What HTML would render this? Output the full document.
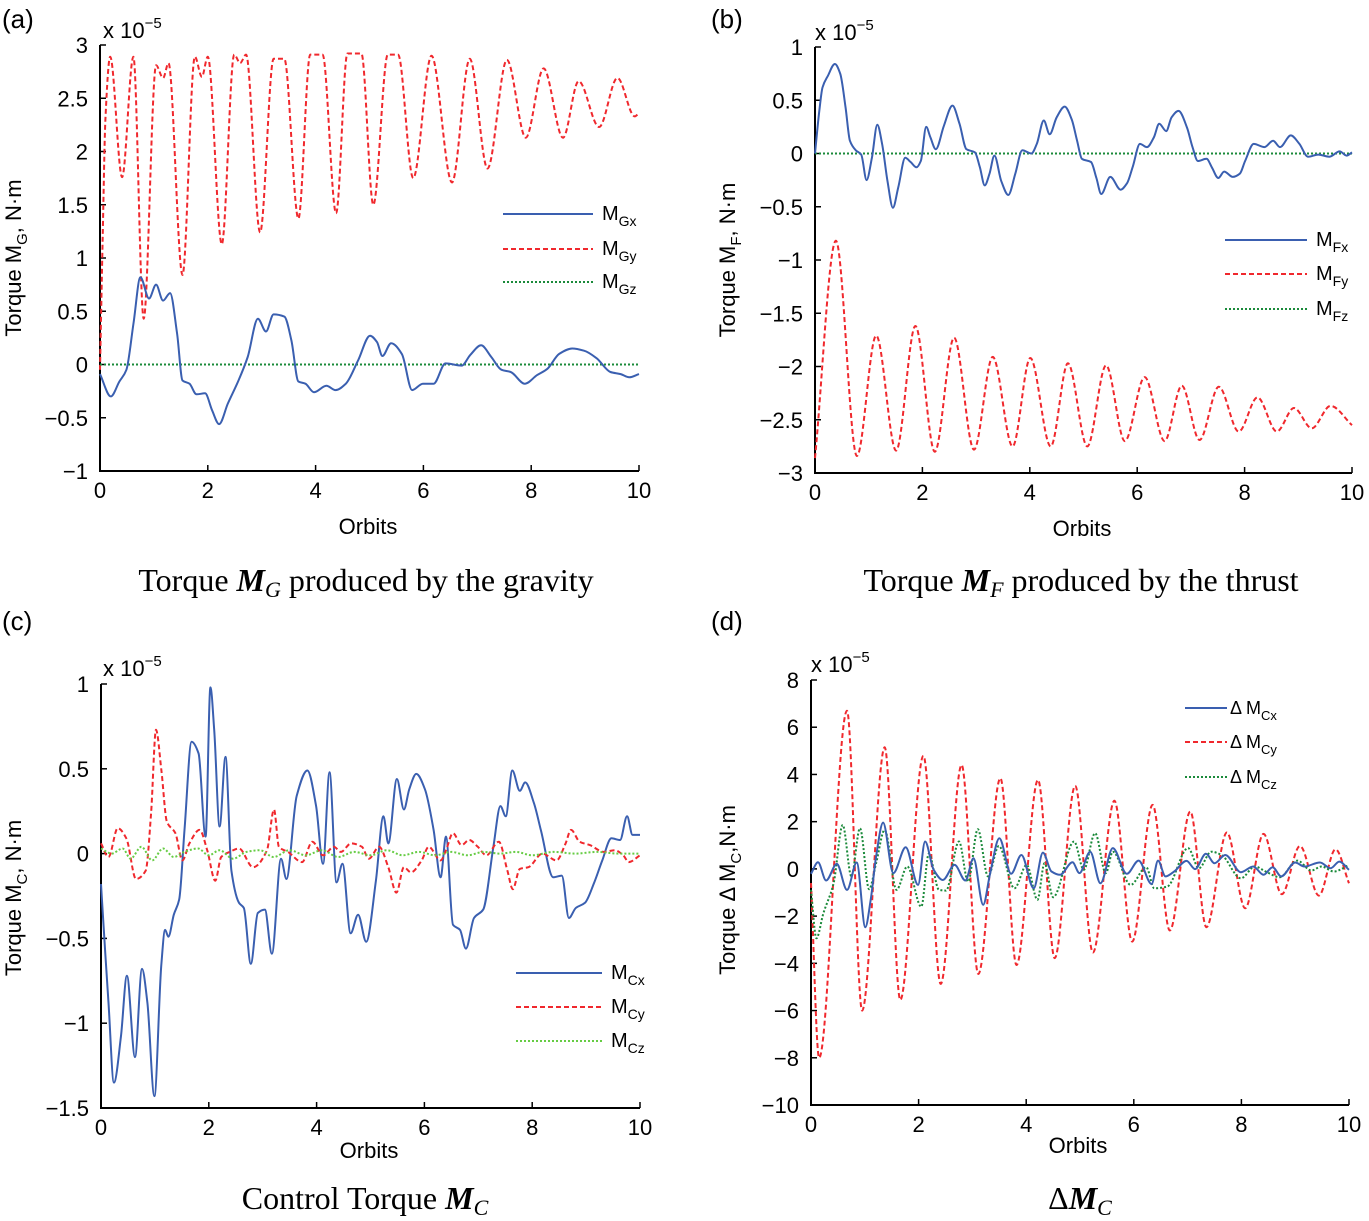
<!DOCTYPE html>
<html><head><meta charset="utf-8"><style>
html,body{margin:0;padding:0;background:#fff;}
svg{display:block;font-family:"Liberation Sans",sans-serif;}
.tk{font-size:22px;fill:#000;}
</style></head><body>
<svg id="root" width="1369" height="1221" viewBox="0 0 1369 1221" xmlns="http://www.w3.org/2000/svg"></svg>
<script>
// ---------- Panel (a) data: gravity torque (x: orbits, y: 1e-5 N·m)
const gxX=[0,0.2,0.36,0.49,0.62,0.75,0.91,1.04,1.17,1.3,1.43,1.53,1.66,1.79,1.95,2.08,2.21,2.37,2.57,2.74,2.93,3.08,3.22,3.42,3.55,3.68,3.81,3.97,4.2,4.37,4.56,4.79,5.01,5.14,5.24,5.4,5.6,5.79,5.99,6.19,6.41,6.71,6.87,7.07,7.26,7.45,7.62,7.88,8.11,8.3,8.52,8.76,8.98,9.21,9.47,9.66,9.82,10];
const gxY=[-0.09,-0.3,-0.16,-0.05,0.38,0.82,0.62,0.75,0.6,0.67,0.29,-0.15,-0.18,-0.28,-0.27,-0.43,-0.56,-0.37,-0.15,0.07,0.43,0.31,0.47,0.45,0.23,-0.16,-0.18,-0.26,-0.2,-0.24,-0.18,0.04,0.27,0.21,0.08,0.2,0.1,-0.24,-0.18,-0.18,0.01,-0.01,0.09,0.18,0.07,-0.05,-0.07,-0.18,-0.1,-0.04,0.1,0.15,0.13,0.06,-0.07,-0.09,-0.12,-0.09];
const gyX=[0,0.05,0.1,0.19,0.41,0.62,0.81,1.04,1.17,1.27,1.53,1.76,1.89,2.0,2.26,2.49,2.6,2.71,2.97,3.22,3.42,3.68,3.9,4.13,4.38,4.59,4.85,5.07,5.34,5.53,5.81,6.15,6.53,6.86,7.19,7.55,7.9,8.23,8.59,8.88,9.26,9.6,9.92,10];
const gyY=[-0.05,1.2,2.3,2.89,1.76,2.89,0.43,2.81,2.69,2.83,0.84,2.89,2.7,2.89,1.13,2.91,2.83,2.91,1.24,2.87,2.87,1.37,2.91,2.91,1.42,2.92,2.92,1.5,2.91,2.91,1.75,2.9,1.71,2.87,1.84,2.86,2.13,2.78,2.13,2.66,2.23,2.69,2.33,2.36];
const gzX=[0,10];
const gzY=[0,0];
// ---------- Panel (b) data: thrust torque
const fxX=[0,0.08,0.14,0.24,0.37,0.47,0.57,0.65,0.76,0.86,0.96,1.06,1.16,1.25,1.35,1.45,1.55,1.68,1.78,1.89,1.97,2.07,2.15,2.25,2.4,2.56,2.69,2.82,2.98,3.07,3.16,3.25,3.34,3.47,3.6,3.73,3.86,4.03,4.13,4.26,4.37,4.5,4.65,4.78,4.88,4.97,5.14,5.24,5.33,5.5,5.69,5.81,5.92,6.05,6.18,6.31,6.41,6.54,6.64,6.77,6.93,7.03,7.13,7.29,7.39,7.51,7.62,7.78,7.91,8.01,8.17,8.37,8.53,8.66,8.86,9.02,9.18,9.37,9.58,9.77,9.9,10];
const fxY=[0,0.4,0.62,0.73,0.84,0.75,0.43,0.12,0.03,-0.01,-0.25,-0.04,0.27,0.09,-0.26,-0.51,-0.32,-0.04,-0.08,-0.13,-0.07,0.25,0.15,0.04,0.26,0.45,0.28,0.04,0.01,-0.13,-0.3,-0.19,-0.02,-0.26,-0.39,-0.19,0.03,0,0.09,0.31,0.18,0.34,0.44,0.32,0.12,-0.05,-0.08,-0.23,-0.38,-0.22,-0.34,-0.28,-0.12,0.09,0.06,0.15,0.28,0.21,0.34,0.4,0.24,0.06,-0.07,-0.05,-0.13,-0.23,-0.17,-0.22,-0.19,-0.07,0.09,0.06,0.12,0.06,0.17,0.09,-0.03,-0.01,-0.03,0.02,-0.02,0.01];
const fyX=[0,0.39,0.78,1.14,1.51,1.87,2.23,2.59,2.96,3.31,3.68,4.01,4.39,4.71,5.07,5.42,5.77,6.14,6.51,6.83,7.16,7.52,7.89,8.24,8.6,8.92,9.25,9.6,10];
const fyY=[-2.86,-0.82,-2.84,-1.71,-2.79,-1.62,-2.8,-1.73,-2.78,-1.91,-2.75,-1.92,-2.75,-1.97,-2.75,-1.99,-2.7,-2.1,-2.7,-2.18,-2.69,-2.19,-2.61,-2.29,-2.61,-2.39,-2.58,-2.37,-2.55];
const fzX=[0,10];
const fzY=[0,0];
// ---------- Panel (c) data: control torque
const cxX=[0,0.08,0.14,0.24,0.37,0.48,0.63,0.76,0.86,0.99,1.12,1.19,1.25,1.35,1.45,1.55,1.68,1.81,1.94,2.03,2.1,2.2,2.31,2.42,2.56,2.65,2.78,2.91,3.04,3.17,3.34,3.44,3.63,3.83,3.99,4.12,4.24,4.37,4.48,4.63,4.77,4.92,5.1,5.24,5.33,5.49,5.62,5.72,5.85,6.01,6.17,6.3,6.4,6.53,6.66,6.77,6.92,7.09,7.28,7.41,7.51,7.63,7.77,7.87,8.03,8.16,8.39,8.55,8.68,8.81,8.98,9.14,9.3,9.47,9.63,9.76,9.86,10];
const cxY=[-0.18,-0.59,-0.88,-1.35,-1.08,-0.72,-1.2,-0.68,-0.88,-1.43,-0.65,-0.45,-0.49,-0.36,-0.27,0.14,0.66,0.59,0.1,0.98,0.73,0.16,0.57,-0.1,-0.29,-0.32,-0.65,-0.35,-0.33,-0.59,-0.03,-0.15,0.34,0.49,0.28,-0.06,0.48,-0.17,-0.06,-0.47,-0.36,-0.52,-0.16,0.22,0.06,0.44,0.26,0.38,0.47,0.38,0.14,-0.14,0.1,-0.42,-0.45,-0.56,-0.38,-0.33,0.04,0.28,0.22,0.49,0.37,0.42,0.3,0.14,-0.14,-0.13,-0.38,-0.32,-0.29,-0.18,-0.04,0.09,0.08,0.22,0.11,0.11];
const cyX=[0,0.14,0.31,0.47,0.65,0.83,0.93,1.02,1.12,1.22,1.38,1.51,1.64,1.83,1.97,2.12,2.23,2.39,2.56,2.82,3.08,3.21,3.3,3.47,3.73,3.92,4.12,4.32,4.45,4.64,4.84,4.97,5.16,5.33,5.48,5.62,5.75,5.95,6.08,6.3,6.4,6.53,6.69,6.83,6.99,7.15,7.38,7.54,7.64,7.77,7.93,8.19,8.45,8.62,8.72,8.88,9.07,9.33,9.53,9.69,9.79,10];
const cyY=[0.06,-0.02,0.15,0.09,-0.15,-0.1,0.24,0.73,0.49,0.19,0.12,-0.04,0.06,0.14,0.02,-0.16,-0.02,0.01,0.03,-0.08,0.02,0.26,0.04,0.01,-0.05,0.07,-0.01,0.04,0.01,0.06,0.04,-0.03,0.04,-0.08,-0.23,-0.08,-0.11,-0.04,0.04,-0.04,0.02,0.12,0.05,0.08,0.04,-0.01,0.07,-0.1,-0.21,-0.09,-0.08,0,-0.04,0.06,0.14,0.07,0.05,0.01,0.02,-0.01,-0.05,-0.01];
const czX=[0,0.2,0.4,0.55,0.75,0.95,1.15,1.35,1.55,1.8,2.0,2.2,2.45,2.7,2.95,3.2,3.5,3.8,4.1,4.4,4.7,5.0,5.3,5.6,5.9,6.2,6.5,6.8,7.1,7.4,7.7,8.0,8.4,8.8,9.2,9.6,10];
const czY=[0.03,0.0,0.03,-0.03,0.04,-0.04,0.03,-0.02,0.01,0.03,-0.01,0.02,-0.03,0.01,0.02,-0.02,0.02,-0.01,0.02,-0.02,0.01,-0.01,0.02,-0.01,0.01,-0.01,0.01,-0.01,0.01,0.0,0.01,-0.01,0.01,0.0,0.01,0.0,0.0];
// ---------- Panel (d) data: control torque error
const dxX=[0,0.13,0.28,0.48,0.67,0.85,1.01,1.11,1.21,1.34,1.53,1.76,1.99,2.12,2.28,2.45,2.67,2.87,3.02,3.2,3.33,3.5,3.72,3.91,4.14,4.31,4.47,4.63,4.86,4.99,5.19,5.38,5.61,5.87,6.09,6.33,6.45,6.59,6.75,6.98,7.14,7.34,7.5,7.7,7.99,8.22,8.41,8.58,8.74,9.0,9.17,9.46,9.66,9.82,10];
const dxY=[-0.21,0.28,-0.49,0.21,-0.89,0.27,-2.47,-1.31,0.52,1.96,-0.18,0.92,-0.68,1.16,-0.04,-0.47,0.17,-0.49,0.45,-1.52,-0.18,1.3,-0.21,0.59,-0.82,0.69,-0.11,-0.25,0.28,-0.18,0.73,-0.61,0.88,-0.21,0.35,-0.64,0.35,-0.32,-0.11,0.34,-0.01,0.64,0.24,0.59,-0.14,0.1,-0.25,0.07,-0.32,0.27,0.1,0.27,0.03,0.31,-0.04];
const dyX=[0,0.15,0.67,0.95,1.37,1.66,2.09,2.41,2.8,3.11,3.52,3.82,4.22,4.53,4.91,5.24,5.64,5.97,6.35,6.67,7.05,7.35,7.73,8.07,8.41,8.75,9.09,9.44,9.75,10];
const dyY=[-0.6,-8.0,6.7,-6.0,5.15,-5.55,4.79,-4.87,4.4,-4.45,3.84,-4.07,3.77,-3.78,3.52,-3.54,2.89,-3.08,2.71,-2.61,2.43,-2.47,1.54,-1.67,1.48,-1.07,0.97,-1.13,0.83,-0.61];
const dzX=[0,0.1,0.23,0.42,0.59,0.75,0.91,1.08,1.21,1.37,1.59,1.79,2.05,2.19,2.38,2.51,2.75,2.92,3.1,3.29,3.49,3.78,4.01,4.21,4.34,4.5,4.89,5.07,5.28,5.48,5.61,5.94,6.23,6.38,6.62,7.01,7.21,7.44,7.63,7.99,8.25,8.45,8.71,9.04,9.3,9.49,9.72,10];
const dzY=[-0.89,-2.94,-1.88,-0.61,1.86,-0.32,1.72,-0.86,0.24,1.65,-0.89,0.1,-1.6,0.64,-0.89,-0.92,1.16,-0.54,1.68,-0.32,0.97,-0.82,0.17,-1.31,0.24,-1.2,1.16,-0.04,1.51,-0.18,0.73,-0.68,0.07,-0.82,-0.75,0.88,0.03,0.73,0.59,-0.4,0.1,-0.11,-0.35,0.35,-0.07,0.1,-0.11,0.17];

const xTicks=[0,2,4,6,8,10];
const aTicks=[-1,-0.5,0,0.5,1,1.5,2,2.5,3];
const bTicks=[-3,-2.5,-2,-1.5,-1,-0.5,0,0.5,1];
const cTicks=[-1.5,-1,-0.5,0,0.5,1];
const dTicks=[-10,-8,-6,-4,-2,0,2,4,6,8];

const NS='http://www.w3.org/2000/svg';
const root=document.getElementById('root');
function mk(tag,attrs,parent){const e=document.createElementNS(NS,tag);for(const k in attrs)e.setAttribute(k,attrs[k]);(parent||root).appendChild(e);return e;}
function fmt(v){return (v<0?'\u2212':'')+String(Math.abs(v));}

// monotone cubic (Fritsch-Carlson) path through pixel points
function monoPath(pts){
  const n=pts.length;
  if(n<3){return 'M'+pts.map(p=>p[0].toFixed(1)+','+p[1].toFixed(1)).join(' L');}
  const dx=[],s=[];
  for(let i=0;i<n-1;i++){dx.push(pts[i+1][0]-pts[i][0]);s.push((pts[i+1][1]-pts[i][1])/dx[i]);}
  const m=new Array(n);
  m[0]=s[0];m[n-1]=s[n-2];
  for(let i=1;i<n-1;i++){
    if(s[i-1]*s[i]<=0)m[i]=0;
    else{const w1=2*dx[i]+dx[i-1],w2=dx[i]+2*dx[i-1];m[i]=(w1+w2)/(w1/s[i-1]+w2/s[i]);}
  }
  let d=`M${pts[0][0].toFixed(1)},${pts[0][1].toFixed(1)}`;
  for(let i=0;i<n-1;i++){
    const h=dx[i]/3;
    d+=` C${(pts[i][0]+h).toFixed(1)},${(pts[i][1]+m[i]*h).toFixed(1)} ${(pts[i+1][0]-h).toFixed(1)},${(pts[i+1][1]-m[i+1]*h).toFixed(1)} ${pts[i+1][0].toFixed(1)},${pts[i+1][1].toFixed(1)}`;
  }
  return d;
}

function panel(cfg){
  const g=mk('g',{});
  
  
  const sx=v=>cfg.L+(v-0)/(10-0)*(cfg.R-cfg.L);
  const sy=v=>cfg.B-(v-cfg.ymin)/(cfg.ymax-cfg.ymin)*(cfg.B-cfg.T);
  const ax=mk('path',{d:`M${cfg.L},${cfg.T} L${cfg.L},${cfg.B} L${cfg.R},${cfg.B}`,fill:'none',stroke:'#000','stroke-width':2},g);
  
  
  cfg.yt.forEach(v=>{
    const y=sy(v);
    mk('line',{x1:cfg.L,x2:cfg.L+6,y1:y,y2:y,stroke:'#000','stroke-width':1.5},g);
    const t=mk('text',{x:cfg.L-12,y:y+8,'text-anchor':'end',class:'tk'},g);
    t.textContent=fmt(v);
    
    
  });
  xTicks.forEach(v=>{
    const x=sx(v);
    mk('line',{x1:x,x2:x,y1:cfg.B,y2:cfg.B-6,stroke:'#000','stroke-width':1.5},g);
    const t=mk('text',{x:x,y:cfg.B+27,'text-anchor':'middle',class:'tk'},g);
    t.textContent=String(v);
    
    
  });
  cfg.series.forEach(s=>{
    const pts=s.x.map((xv,i)=>[sx(xv),sy(s.y[i])]);
    const p=mk('path',{d:monoPath(pts),fill:'none',stroke:s.c,'stroke-width':2,'stroke-dasharray':s.dash},g);
    
    
  });
}
const BLUE='#3a5fb0',RED='#f0282d',GREEN='#1a8a3a',LGREEN='#66cc44';
panel({name:'panel-a',L:100,R:639,T:45,B:471,ymin:-1,ymax:3,yt:aTicks,series:[
 {name:'mgy-line',x:gyX,y:gyY,c:RED,dash:'5,3'},
 {name:'mgz-line',x:gzX,y:gzY,c:GREEN,dash:'2,2'},
 {name:'mgx-line',x:gxX,y:gxY,c:BLUE,dash:'none'}]});
panel({name:'panel-b',L:815,R:1352,T:47,B:473,ymin:-3,ymax:1,yt:bTicks,series:[
 {name:'mfy-line',x:fyX,y:fyY,c:RED,dash:'5,3'},
 {name:'mfz-line',x:fzX,y:fzY,c:GREEN,dash:'2,2'},
 {name:'mfx-line',x:fxX,y:fxY,c:BLUE,dash:'none'}]});
panel({name:'panel-c',L:101,R:640,T:684,B:1108,ymin:-1.5,ymax:1,yt:cTicks,series:[
 {name:'mcx-line',x:cxX,y:cxY,c:BLUE,dash:'none'},
 {name:'mcy-line',x:cyX,y:cyY,c:RED,dash:'5,3'},
 {name:'mcz-line',x:czX,y:czY,c:LGREEN,dash:'2,2'}]});
panel({name:'panel-d',L:811,R:1349,T:680,B:1105,ymin:-10,ymax:8,yt:dTicks,series:[
 {name:'dmcy-line',x:dyX,y:dyY,c:RED,dash:'5,3'},
 {name:'dmcz-line',x:dzX,y:dzY,c:GREEN,dash:'2,2'},
 {name:'dmcx-line',x:dxX,y:dxY,c:BLUE,dash:'none'}]});
</script>
<svg width="1369" height="1221" style="position:absolute;left:0;top:0;font-family:'Liberation Sans',sans-serif">
 <g font-size="26" fill="#000">
  <text x="2" y="28">(a)</text>
  <text x="711" y="28">(b)</text>
  <text x="2" y="630">(c)</text>
  <text x="711" y="630">(d)</text>
 </g>
 <g font-size="22" fill="#000">
  <text x="103" y="38">x 10<tspan dy="-10" font-size="15">−5</tspan></text>
  <text x="815" y="40">x 10<tspan dy="-10" font-size="15">−5</tspan></text>
  <text x="103" y="676">x 10<tspan dy="-10" font-size="15">−5</tspan></text>
  <text x="811" y="672">x 10<tspan dy="-10" font-size="15">−5</tspan></text>
  <text x="368" y="534" text-anchor="middle">Orbits</text>
  <text x="1082" y="536" text-anchor="middle">Orbits</text>
  <text x="369" y="1158" text-anchor="middle">Orbits</text>
  <text x="1078" y="1153" text-anchor="middle">Orbits</text>
  <text transform="translate(21,258) rotate(-90)" text-anchor="middle">Torque M<tspan dy="6" font-size="15">G</tspan><tspan dy="-6">, N·m</tspan></text>
  <text transform="translate(735,260) rotate(-90)" text-anchor="middle">Torque M<tspan dy="6" font-size="15">F</tspan><tspan dy="-6">, N·m</tspan></text>
  <text transform="translate(21,898) rotate(-90)" text-anchor="middle">Torque M<tspan dy="6" font-size="15">C</tspan><tspan dy="-6">, N·m</tspan></text>
  <text transform="translate(735,890) rotate(-90)" text-anchor="middle">Torque Δ M<tspan dy="6" font-size="15">C</tspan><tspan dy="-6">,N·m</tspan></text>
 </g>
 <g font-size="20">
  <line x1="503" x2="593" y1="214" y2="214" stroke="#3a5fb0" stroke-width="2"/>
  <line x1="503" x2="593" y1="249" y2="249" stroke="#f0282d" stroke-width="2" stroke-dasharray="5,3"/>
  <line x1="503" x2="593" y1="282" y2="282" stroke="#1a8a3a" stroke-width="2" stroke-dasharray="2,2"/>
  <text x="602" y="220">M<tspan dy="6" font-size="14">Gx</tspan></text>
  <text x="602" y="255">M<tspan dy="6" font-size="14">Gy</tspan></text>
  <text x="602" y="288">M<tspan dy="6" font-size="14">Gz</tspan></text>
 </g>
 <g font-size="20">
  <line x1="1225" x2="1307" y1="240" y2="240" stroke="#3a5fb0" stroke-width="2"/>
  <line x1="1225" x2="1307" y1="274" y2="274" stroke="#f0282d" stroke-width="2" stroke-dasharray="5,3"/>
  <line x1="1225" x2="1307" y1="309" y2="309" stroke="#1a8a3a" stroke-width="2" stroke-dasharray="2,2"/>
  <text x="1316" y="246">M<tspan dy="6" font-size="14">Fx</tspan></text>
  <text x="1316" y="280">M<tspan dy="6" font-size="14">Fy</tspan></text>
  <text x="1316" y="315">M<tspan dy="6" font-size="14">Fz</tspan></text>
 </g>
 <g font-size="20">
  <line x1="516" x2="602" y1="973" y2="973" stroke="#3a5fb0" stroke-width="2"/>
  <line x1="516" x2="602" y1="1007" y2="1007" stroke="#f0282d" stroke-width="2" stroke-dasharray="5,3"/>
  <line x1="516" x2="602" y1="1041" y2="1041" stroke="#66cc44" stroke-width="2" stroke-dasharray="2,2"/>
  <text x="611" y="979">M<tspan dy="6" font-size="14">Cx</tspan></text>
  <text x="611" y="1013">M<tspan dy="6" font-size="14">Cy</tspan></text>
  <text x="611" y="1047">M<tspan dy="6" font-size="14">Cz</tspan></text>
 </g>
 <g font-size="18">
  <line x1="1185" x2="1227" y1="708" y2="708" stroke="#3a5fb0" stroke-width="2"/>
  <line x1="1185" x2="1227" y1="742" y2="742" stroke="#f0282d" stroke-width="2" stroke-dasharray="5,3"/>
  <line x1="1185" x2="1227" y1="777" y2="777" stroke="#1a8a3a" stroke-width="2" stroke-dasharray="2,2"/>
  <text x="1230" y="714">Δ M<tspan dy="6" font-size="13">Cx</tspan></text>
  <text x="1230" y="748">Δ M<tspan dy="6" font-size="13">Cy</tspan></text>
  <text x="1230" y="783">Δ M<tspan dy="6" font-size="13">Cz</tspan></text>
 </g>
 <g font-family="'Liberation Serif',serif" font-size="32" fill="#000">
  <text x="366" y="591" text-anchor="middle">Torque <tspan font-weight="bold" font-style="italic">M</tspan><tspan font-style="italic" font-size="22" dy="6">G</tspan><tspan dy="-6"> produced by the gravity</tspan></text>
  <text x="1081" y="591" text-anchor="middle">Torque <tspan font-weight="bold" font-style="italic">M</tspan><tspan font-style="italic" font-size="22" dy="6">F</tspan><tspan dy="-6"> produced by the thrust</tspan></text>
  <text x="365" y="1209" text-anchor="middle">Control Torque <tspan font-weight="bold" font-style="italic">M</tspan><tspan font-style="italic" font-size="22" dy="6">C</tspan></text>
  <text x="1080" y="1209" text-anchor="middle">Δ<tspan font-weight="bold" font-style="italic">M</tspan><tspan font-style="italic" font-size="22" dy="6">C</tspan></text>
 </g>
</svg>
</body></html>
